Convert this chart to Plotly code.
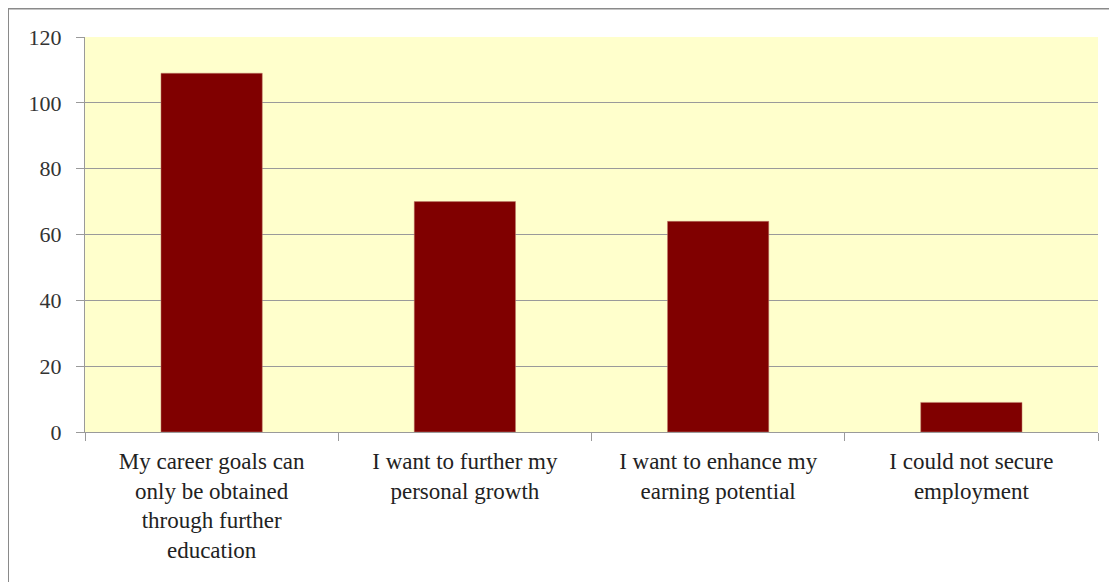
import plotly.graph_objects as go

categories = [
    "My career goals can<br>only be obtained<br>through further<br>education",
    "I want to further my<br>personal growth",
    "I want to enhance my<br>earning potential",
    "I could not secure<br>employment",
]
values = [109, 70, 64, 9]
y_ticks = [0, 20, 40, 60, 80, 100, 120]

# page has 8px body margin; figure coordinates = page - 8
OFF = 8
W, H = 1117 - OFF, 582 - OFF
L, R, T, B = 85 - OFF, 1098 - OFF, 37 - OFF, 432 - OFF

FONT = "Liberation Serif, Times New Roman, serif"

fig = go.Figure(go.Bar(
    x=categories, y=values,
    marker=dict(color="#800000", line=dict(color="#C08070", width=0.5)),
    width=0.4,
))

pw, ph = R - L, B - T
def px(x):
    return (x - L) / pw
def py(y):
    return (B - y) / ph

fig.add_shape(type="rect", xref="paper", yref="paper",
              x0=px(0), x1=px(1130), y0=py(0.5), y1=py(600),
              line=dict(color="#8a8a8a", width=2), fillcolor="rgba(0,0,0,0)", layer="below")

fig.update_layout(
    width=W, height=H,
    margin=dict(l=L, r=W - R, t=T, b=H - B),
    paper_bgcolor="white",
    plot_bgcolor="#FFFFCC",
    showlegend=False,
    font=dict(family=FONT, size=23, color="#222222"),
    bargap=0.6,
)
fig.update_yaxes(
    range=[0, 120], tickvals=y_ticks, showgrid=True, gridcolor="#9a9a9a", gridwidth=1,
    showline=True, linecolor="#9a9a9a", linewidth=1,
    ticks="outside", ticklen=8, tickcolor="#9a9a9a",
    tickfont=dict(family=FONT, size=22, color="#333333"),
    ticklabelstandoff=10,
    zeroline=False,
)
fig.update_xaxes(
    showline=True, linecolor="#9a9a9a", linewidth=1,
    ticks="outside", ticklen=8, tickcolor="#9a9a9a", tickson="boundaries",
    tickfont=dict(family=FONT, size=23, color="#222222"),
    ticklabelstandoff=8,
    tickangle=0,
)

fig.write_html("out.html")
